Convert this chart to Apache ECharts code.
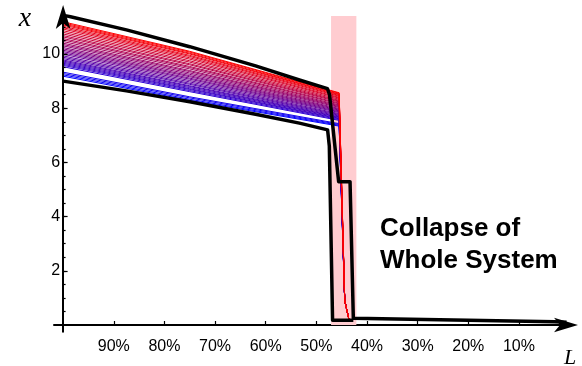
<!DOCTYPE html>
<html>
<head>
<meta charset="utf-8">
<script src="https://cdn.jsdelivr.net/npm/echarts@6/dist/echarts.min.js"></script>
<style>
  html, body { margin: 0; padding: 0; background: #fff; }
  #chart { width: 582px; height: 366px; }
</style>
</head>
<body>
<div id="chart"></div>
<script>
// axis ticks
const xTicks = [90, 80, 70, 60, 50, 40, 30, 20, 10];
const yTicks = [2, 4, 6, 8, 10];
const yMinorTicks = [0.5, 1, 1.5, 2, 2.5, 3, 3.5, 4, 4.5, 5, 5.5, 6, 6.5, 7, 7.5, 8, 8.5, 9, 9.5, 10, 10.5, 11];

// coloured runs: value of x at L = 100%, 75% and just before the drop
const runL = [100, 75, 45.5];
const runStart = [
  11.19, 11.15, 11.11, 11.07, 11.02, 10.97, 10.92, 10.86, 10.80, 10.74,
  10.68, 10.63, 10.57, 10.52, 10.46, 10.40, 10.35, 10.30,
  10.24, 10.19, 10.14, 10.09, 10.04, 9.99, 9.93, 9.88, 9.83,
  9.78, 9.74, 9.70, 9.66, 9.62, 9.58, 9.53,
  9.33, 9.28, 9.23, 9.18
];
const runMid = [
  10.10, 10.07, 10.03, 10.00, 9.95, 9.91, 9.86, 9.81, 9.75, 9.70,
  9.64, 9.60, 9.54, 9.50, 9.45, 9.39, 9.35, 9.30,
  9.25, 9.20, 9.16, 9.11, 9.07, 9.02, 8.97, 8.92, 8.88,
  8.83, 8.80, 8.76, 8.72, 8.69, 8.65, 8.61,
  8.42, 8.38, 8.33, 8.29
];
const runEnd = [
  8.57, 8.55, 8.52, 8.50, 8.47, 8.44, 8.40, 8.37, 8.33, 8.29,
  8.26, 8.23, 8.19, 8.16, 8.12, 8.09, 8.06, 8.03,
  7.99, 7.96, 7.93, 7.90, 7.87, 7.84, 7.80, 7.77, 7.74,
  7.71, 7.68, 7.66, 7.63, 7.61, 7.58, 7.55,
  7.43, 7.40, 7.37, 7.34
];
// where the runs fall to after the collapse
const dropL = [44.4, 43.5];
const dropX = [0.9, 0.15];

// black envelope
const upperL = [100, 87.5, 75, 62, 53.35, 47.8, 47.4, 46.9, 46.4, 45.6, 43.35, 42.7, 3, 0.6];
const upperX = [11.44, 10.89, 10.27, 9.56, 9.04, 8.72, 8.5, 7.6, 6.7, 5.29, 5.29, 0.25, 0.12, 0.1];
const lowerL = [100, 87.5, 75, 62, 53.35, 47.78, 47.44, 46.8, 42.7];
const lowerX = [9.0, 8.64, 8.24, 7.78, 7.45, 7.2, 6.6, 0.18, 0.18];

// collapse band
const bandL = [47.1, 42.1];
const bandTop = 11.44;

const chart = echarts.init(document.getElementById('chart'));
const font = '"Liberation Sans", Arial, sans-serif';

const runColor = (s) => {
  const t = (runStart[0] - s) / (runStart[0] - runStart[runStart.length - 1]);
  return `rgb(${Math.round(255 * (1 - t))},0,${Math.round(255 * t)})`;
};

const runSeries = runStart.map((s, i) => ({
  type: 'line',
  showSymbol: false,
  silent: true,
  z: 2,
  lineStyle: { width: 1, color: runColor(s) },
  data: [
    [runL[0], runStart[i]],
    [runL[1], runMid[i]],
    [runL[2], runEnd[i]],
    [dropL[0], dropX[0]],
    [dropL[1], dropX[1]]
  ]
})).reverse();

const blackLine = (ls, xs) => ({
  type: 'line',
  showSymbol: false,
  silent: true,
  z: 3,
  lineStyle: { width: 3.5, color: '#000', join: 'round' },
  data: ls.map((l, i) => [l, xs[i]])
});

const yBase = {
  type: 'value',
  min: -0.25,
  max: 11.4,
  position: 'left',
  offset: -9.1,
  z: 5,
  splitLine: { show: false }
};

const option = {
  animation: false,
  grid: { left: 54, right: 12.4, top: 16.06, bottom: 34.2, outerBoundsMode: 'none' },
  xAxis: {
    type: 'value',
    inverse: true,
    min: 0,
    max: 101.8,
    splitLine: { show: false },
    axisLine: {
      onZero: true,
      lineStyle: { color: '#000', width: 2 },
      symbol: ['none', 'arrow'],
      symbolSize: [11, 24],
      symbolOffset: [0, 8.4]
    },
    axisTick: { customValues: xTicks, inside: true, length: 4, lineStyle: { color: '#000', width: 1.2 } },
    axisLabel: { customValues: xTicks, formatter: '{value}%', color: '#000', fontSize: 16, fontFamily: font, margin: 7 }
  },
  yAxis: [
    Object.assign({}, yBase, {
      axisLine: {
        onZero: false,
        lineStyle: { color: '#000', width: 2 },
        symbol: ['none', 'arrow'],
        symbolSize: [11, 24],
        symbolOffset: [0, 11]
      },
      axisTick: { customValues: yMinorTicks, inside: true, length: 2.5, lineStyle: { color: '#000', width: 1.2 } },
      axisLabel: { customValues: yTicks, color: '#000', fontSize: 16, fontFamily: font, margin: 3 }
    }),
    Object.assign({}, yBase, {
      axisLine: { show: false, onZero: false },
      axisTick: { customValues: yTicks, inside: true, length: 4.5, lineStyle: { color: '#000', width: 1.2 } },
      axisLabel: { show: false }
    })
  ],
  graphic: [
    {
      type: 'text', left: 380, top: 213,
      style: { text: 'Collapse of\nWhole System', font: 'bold 26px ' + font, fill: '#000', lineHeight: 32 }
    },
    {
      type: 'text', x: 25, y: 18.5,
      style: { text: 'x', font: 'italic 28px "Liberation Serif", serif', fill: '#000', align: 'center', verticalAlign: 'middle' }
    },
    {
      type: 'text', x: 564, y: 358,
      style: { text: 'L', font: 'italic 22px "Liberation Serif", serif', fill: '#000', align: 'left', verticalAlign: 'middle' }
    }
  ],
  series: [
    {
      type: 'line',
      data: [],
      markArea: {
        silent: true,
        itemStyle: { color: '#ffccd0' },
        data: [[{ coord: [bandL[0], bandTop] }, { coord: [bandL[1], 0] }]]
      }
    },
    ...runSeries,
    blackLine(lowerL, lowerX),
    blackLine(upperL, upperX)
  ]
};

chart.setOption(option);
window.addEventListener('resize', () => chart.resize());
</script>
</body>
</html>
